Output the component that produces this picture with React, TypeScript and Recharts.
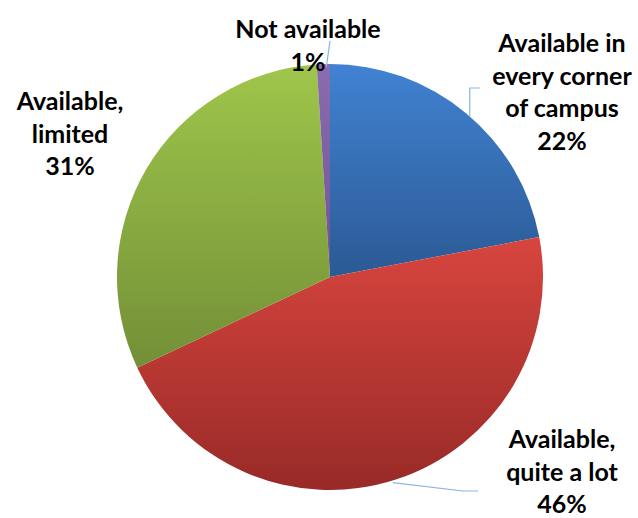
import { PieChart, Pie, Cell } from "recharts";

const CATEGORIES = [
  "Available in every corner of campus",
  "Available, quite a lot",
  "Available, limited",
  "Not available",
];
const SHARES = [22, 46, 31, 1];
const LABEL_LINES = [
  ["Available in", "every corner", "of campus", "22%"],
  ["Available,", "quite a lot", "46%"],
  ["Available,", "limited", "31%"],
  ["Not available", "1%"],
];

const GRADIENTS = [
  { id: "g-blue", top: "#4182d3", bottom: "#2b5a94" },
  { id: "g-red", top: "#d8453f", bottom: "#982a27" },
  { id: "g-green", top: "#9fc64b", bottom: "#738f37" },
  { id: "g-purple", top: "#8a6cb0", bottom: "#6f5490" },
];

// label placement relative to the pie centre; leader elbows relative to the centre too
const LABEL_LAYOUT = [
  { dx: 232, dy: -225, leader: [[4, 4], [4, -189, "v"], [14, -189, "v"]] },
  { dx: 232, dy: 171, leader: [[-3, 3], [133, 214], [148, 214]] },
  { dx: -260, dy: -167, leader: [] },
  { dx: -22, dy: -239, leader: [[3, 3], [0, -236]] },
];

const data = CATEGORIES.map((name, i) => ({ name, value: SHARES[i] }));

const RAD = Math.PI / 180;
const LINE_H = 32.5;

function renderLabel(props: any) {
  const { cx, cy, midAngle, outerRadius, index } = props;
  const lay = LABEL_LAYOUT[index];
  const ex = cx + outerRadius * Math.cos(-midAngle * RAD);
  const ey = cy + outerRadius * Math.sin(-midAngle * RAD);
  const lx = cx + lay.dx;
  const ly = cy + lay.dy;
  const pts = lay.leader
    .map((p: any, k: number) => {
      if (k === 0) return `${ex + p[0]},${ey + p[1]}`;
      if (p[2] === "v") return `${ex + p[0]},${cy + p[1]}`;
      return `${cx + p[0]},${cy + p[1]}`;
    })
    .join(" ");
  return (
    <g key={`lbl-${index}`}>
      {pts && <polyline points={pts} fill="none" stroke="#8db3e2" strokeWidth={1.2} />}
      <text
        x={lx}
        y={ly}
        textAnchor="middle"
        fill="#000"
        fontFamily="Lato, 'Open Sans', sans-serif"
        fontWeight={700}
        fontSize={25}
      >
        {LABEL_LINES[index].map((t, k) => (
          <tspan key={k} x={lx} y={ly + k * LINE_H}>
            {t}
          </tspan>
        ))}
      </text>
    </g>
  );
}

export default function App() {
  return (
    <div style={{ position: "absolute", left: 0, top: 0, width: 638, height: 518, background: "#fff" }}>
      <PieChart width={638} height={518} margin={{ top: 0, right: 0, bottom: 0, left: 0 }}>
        <defs>
          {GRADIENTS.map((g) => (
            <linearGradient key={g.id} id={g.id} x1="0" y1="0" x2="0" y2="1">
              <stop offset="0%" stopColor={g.top} />
              <stop offset="100%" stopColor={g.bottom} />
            </linearGradient>
          ))}
        </defs>
        <Pie
          data={data}
          dataKey="value"
          nameKey="name"
          cx={330}
          cy={277}
          outerRadius={213}
          startAngle={90}
          endAngle={-270}
          stroke="none"
          label={renderLabel}
          labelLine={false}
          isAnimationActive={false}
        >
          {data.map((d, i) => (
            <Cell key={d.name} fill={`url(#${GRADIENTS[i].id})`} />
          ))}
        </Pie>
      </PieChart>
    </div>
  );
}
